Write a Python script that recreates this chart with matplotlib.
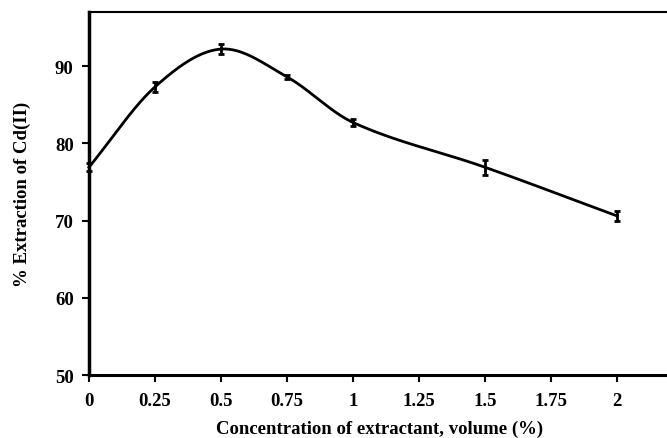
import numpy as np
import matplotlib
matplotlib.use("Agg")
import matplotlib.pyplot as plt

volume = [0, 0.25, 0.5, 0.75, 1, 1.5, 2]
extraction = [76.9, 87.3, 92.2, 88.6, 82.7, 76.9, 70.6]
errors = [0.5, 0.7, 0.6, 0.3, 0.5, 1.0, 0.6]
x_ticks = [0, 0.25, 0.5, 0.75, 1, 1.25, 1.5, 1.75, 2]
x_tick_labels = ["0", "0.25", "0.5", "0.75", "1", "1.25", "1.5", "1.75", "2"]
y_ticks = [50, 60, 70, 80, 90]


def smooth_curve(xs, ys, steps=60):
    # cubic Hermite through the points, Catmull-Rom style slopes in x
    xs = np.asarray(xs, float)
    ys = np.asarray(ys, float)
    n = len(xs)
    m = np.zeros(n)
    m[0] = (ys[1] - ys[0]) / (xs[1] - xs[0])
    m[-1] = (ys[-1] - ys[-2]) / (xs[-1] - xs[-2])
    for i in range(1, n - 1):
        m[i] = (ys[i + 1] - ys[i - 1]) / (xs[i + 1] - xs[i - 1])
    out_x, out_y = [], []
    for i in range(n - 1):
        h = xs[i + 1] - xs[i]
        t = np.linspace(0, 1, steps)
        h00 = 2 * t ** 3 - 3 * t ** 2 + 1
        h10 = t ** 3 - 2 * t ** 2 + t
        h01 = -2 * t ** 3 + 3 * t ** 2
        h11 = t ** 3 - t ** 2
        out_x.append(xs[i] + t * h)
        out_y.append(h00 * ys[i] + h10 * h * m[i] + h01 * ys[i + 1] + h11 * h * m[i + 1])
    return np.concatenate(out_x), np.concatenate(out_y)


plt.rcParams["font.family"] = "Liberation Serif"
plt.rcParams["font.weight"] = "bold"

fig = plt.figure(figsize=(6.67, 4.39), dpi=100)
ax = fig.add_axes([0.1334, 0.1435, 0.8708, 0.8269])

cx, cy = smooth_curve(volume, extraction)
ax.plot(cx, cy, color="black", linewidth=2, clip_on=False, zorder=3)
ax.errorbar(volume, extraction, yerr=errors, fmt="none", ecolor="black",
            elinewidth=2, capsize=2, capthick=2, clip_on=False, zorder=4)

ax.set_xlim(0, 2.2)
ax.set_ylim(50, 97)
ax.set_xticks(x_ticks)
ax.set_xticklabels(x_tick_labels)
ax.set_yticks(y_ticks)
ax.tick_params(axis="both", direction="out", length=5, width=1.5, labelsize=13.5, pad=6)
ax.tick_params(axis="x", pad=7)

ax.spines["right"].set_visible(False)
ax.spines["left"].set_linewidth(2.5)
ax.spines["bottom"].set_linewidth(2.2)
ax.spines["top"].set_linewidth(1.5)

ax.set_xlabel("Concentration of extractant, volume (%)", fontsize=13.5, fontweight="bold", labelpad=8)
ax.set_ylabel("% Extraction of Cd(II)", fontsize=13.5, fontweight="bold", labelpad=17)

fig.savefig("out.png", dpi=100)
